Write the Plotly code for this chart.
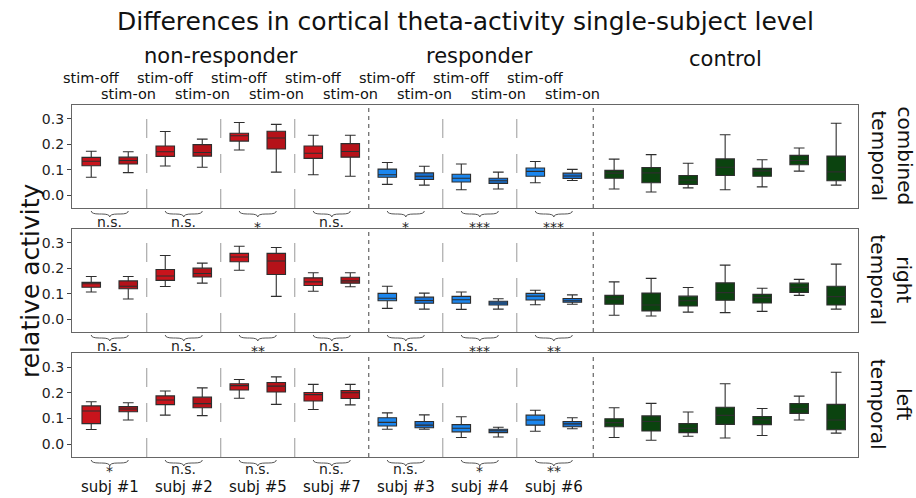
import plotly.graph_objects as go

# ---------------- data ----------------
SUBJECTS = ["subj #1", "subj #2", "subj #5", "subj #7", "subj #3", "subj #4", "subj #6"]
GROUPS = ["non-responder", "responder", "control"]
CONDITIONS = ["stim-off", "stim-on"]
REGIONS = ["combined<br>temporal", "right<br>temporal", "left<br>temporal"]
TITLE = "Differences in cortical theta-activity single-subject level"
YLABEL = "relative activity"
YTICKS = [0.0, 0.1, 0.2, 0.3]

# box order: subj#1 off,on, subj#2 off,on, subj#5, subj#7, subj#3, subj#4, subj#6, then 7 controls
COMB_HI = [0.173, 0.171, 0.251, 0.221, 0.286, 0.279, 0.236, 0.236, 0.129, 0.114, 0.123, 0.091, 0.133, 0.102,
           0.142, 0.160, 0.126, 0.238, 0.140, 0.186, 0.283]
COMB_Q3 = [0.149, 0.150, 0.194, 0.199, 0.244, 0.252, 0.194, 0.203, 0.103, 0.088, 0.083, 0.067, 0.107, 0.087,
           0.098, 0.109, 0.078, 0.143, 0.106, 0.157, 0.154]
COMB_MED = [0.134, 0.137, 0.171, 0.168, 0.234, 0.225, 0.165, 0.172, 0.081, 0.075, 0.067, 0.057, 0.094, 0.076,
            0.087, 0.088, 0.060, 0.110, 0.096, 0.137, 0.092]
COMB_Q1 = [0.116, 0.123, 0.153, 0.154, 0.213, 0.182, 0.145, 0.150, 0.071, 0.062, 0.052, 0.047, 0.075, 0.066,
           0.067, 0.049, 0.043, 0.078, 0.075, 0.120, 0.057]
COMB_LO = [0.071, 0.089, 0.115, 0.110, 0.178, 0.091, 0.081, 0.075, 0.043, 0.040, 0.022, 0.025, 0.049, 0.058,
           0.025, 0.013, 0.029, 0.022, 0.033, 0.095, 0.040]

RIGHT_HI = [0.168, 0.168, 0.251, 0.221, 0.287, 0.282, 0.183, 0.183, 0.130, 0.103, 0.107, 0.081, 0.114, 0.096,
            0.147, 0.161, 0.125, 0.213, 0.122, 0.157, 0.217]
RIGHT_Q3 = [0.145, 0.151, 0.196, 0.201, 0.259, 0.259, 0.163, 0.165, 0.102, 0.087, 0.090, 0.071, 0.102, 0.082,
            0.094, 0.103, 0.091, 0.143, 0.098, 0.142, 0.130]
RIGHT_MED = [0.140, 0.130, 0.170, 0.180, 0.245, 0.229, 0.147, 0.151, 0.083, 0.074, 0.077, 0.064, 0.091, 0.073,
             0.080, 0.056, 0.073, 0.105, 0.085, 0.126, 0.089]
RIGHT_Q1 = [0.126, 0.120, 0.153, 0.166, 0.226, 0.176, 0.133, 0.142, 0.073, 0.063, 0.063, 0.056, 0.076, 0.067,
            0.059, 0.033, 0.052, 0.075, 0.064, 0.106, 0.056]
RIGHT_LO = [0.107, 0.080, 0.129, 0.142, 0.193, 0.090, 0.110, 0.128, 0.043, 0.040, 0.039, 0.040, 0.057, 0.059,
            0.016, 0.013, 0.028, 0.026, 0.031, 0.094, 0.040]

LEFT_HI = [0.165, 0.161, 0.207, 0.219, 0.252, 0.262, 0.233, 0.233, 0.122, 0.114, 0.107, 0.066, 0.132, 0.103,
           0.142, 0.159, 0.125, 0.235, 0.139, 0.187, 0.280]
LEFT_Q3 = [0.149, 0.146, 0.188, 0.183, 0.235, 0.240, 0.201, 0.209, 0.103, 0.088, 0.076, 0.058, 0.113, 0.088,
           0.099, 0.110, 0.080, 0.144, 0.108, 0.158, 0.155]
LEFT_MED = [0.129, 0.137, 0.172, 0.158, 0.228, 0.226, 0.193, 0.200, 0.085, 0.074, 0.062, 0.052, 0.094, 0.079,
            0.084, 0.088, 0.062, 0.112, 0.095, 0.137, 0.094]
LEFT_Q1 = [0.080, 0.126, 0.154, 0.142, 0.211, 0.203, 0.168, 0.178, 0.071, 0.064, 0.048, 0.045, 0.074, 0.068,
           0.068, 0.051, 0.045, 0.077, 0.076, 0.120, 0.056]
LEFT_LO = [0.057, 0.094, 0.113, 0.111, 0.179, 0.155, 0.135, 0.153, 0.058, 0.058, 0.026, 0.028, 0.050, 0.060,
           0.026, 0.015, 0.031, 0.024, 0.034, 0.094, 0.043]

SIG_COMB = ["n.s.", "n.s.", "*", "n.s.", "*", "***", "***"]
SIG_RIGHT = ["n.s.", "n.s.", "**", "n.s.", "n.s.", "***", "**"]
SIG_LEFT = ["*", "n.s.", "n.s.", "n.s.", "n.s.", "*", "**"]

PANELS = [
    (COMB_LO, COMB_Q1, COMB_MED, COMB_Q3, COMB_HI, SIG_COMB),
    (RIGHT_LO, RIGHT_Q1, RIGHT_MED, RIGHT_Q3, RIGHT_HI, SIG_RIGHT),
    (LEFT_LO, LEFT_Q1, LEFT_MED, LEFT_Q3, LEFT_HI, SIG_LEFT),
]

# ---------------- layout geometry ----------------
W, H = 916, 498
ML, MR, MT, MB = 72, 58, 105, 41
PH = H - MT - MB           # paper height in px
PW = W - ML - MR

def py(px):                # pixel y -> paper y
    return (H - MB - px) / PH

panel_px = [(105, 208), (229, 332), (353, 457)]
domains = [[py(b), py(t)] for (t, b) in panel_px]

n_subj_boxes = 2 * len(SUBJECTS)
n_ctrl = len(COMB_HI) - n_subj_boxes
pos = list(range(n_subj_boxes)) + [n_subj_boxes + 0.13 + i for i in range(n_ctrl)]
XR = [-0.52, pos[-1] + 0.59]
n_nonresp = 4

RED_OFF, RED_ON = "#c9141c", "#b51219"
BLUE_OFF, BLUE_ON = "#1b86ee", "#1770d2"
GREEN = "#0b430f"
EDGE = "#2e2e2e"
FONT = "DejaVu Sans"

def box_color(k):
    if k >= n_subj_boxes:
        return GREEN
    subj = k // 2
    on = k % 2 == 1
    if subj < n_nonresp:
        return RED_ON if on else RED_OFF
    return BLUE_ON if on else BLUE_OFF

def label(x, y, text, size, xref="x", yref="paper", angle=0, color="#111"):
    return dict(x=x, y=y, xref=xref, yref=yref, text=text, showarrow=False, textangle=angle,
                xanchor="center", yanchor="middle",
                font=dict(family=FONT, size=size, color=color))

fig = go.Figure()
shapes = []
annotations = []

for pi, (lo, q1, med, q3, hi, sig) in enumerate(PANELS):
    xa = "x" if pi == 0 else f"x{pi+1}"
    ya = "y" if pi == 0 else f"y{pi+1}"
    colors = []
    for k in range(len(hi)):
        if box_color(k) not in colors:
            colors.append(box_color(k))
    for col in colors:
        idx = [k for k in range(len(hi)) if box_color(k) == col]
        fig.add_trace(go.Box(
            x=[pos[k] for k in idx],
            lowerfence=[lo[k] for k in idx], q1=[q1[k] for k in idx],
            median=[med[k] for k in idx], q3=[q3[k] for k in idx],
            upperfence=[hi[k] for k in idx],
            width=0.5, whiskerwidth=0.58, boxpoints=False,
            fillcolor=col, line=dict(color=EDGE, width=1.1),
            xaxis=xa, yaxis=ya, showlegend=False,
        ))
    ydom = ya + " domain"
    # dividers
    for s in range(1, len(SUBJECTS)):
        xd = (pos[2 * s - 1] + pos[2 * s]) / 2
        major = (s == n_nonresp)
        shapes.append(dict(type="line", xref=xa, yref=ydom, x0=xd, x1=xd, y0=0, y1=1,
                           line=dict(color="#444444" if major else "#999999", width=1,
                                     dash="4px,4px" if major else "19px,16px")))
    xd = (pos[n_subj_boxes - 1] + pos[n_subj_boxes]) / 2
    shapes.append(dict(type="line", xref=xa, yref=ydom, x0=xd, x1=xd, y0=0, y1=1,
                       line=dict(color="#444444", width=1, dash="4px,4px")))
    # braces & significance
    bottom_px = panel_px[pi][1]
    y0, y1, y2 = py(bottom_px + 3), py(bottom_px + 6), py(bottom_px + 9)
    base_off = 12 if pi == 2 else 14
    star_shift = 2 if pi == 2 else 5
    for s in range(len(SUBJECTS)):
        a, b = pos[2 * s], pos[2 * s + 1]
        m = (a + b) / 2
        r = 0.22
        path = (f"M{a},{y0} Q{a},{y1} {a+r},{y1} L{m-r},{y1} Q{m},{y1} {m},{y2} "
                f"Q{m},{y1} {m+r},{y1} L{b-r},{y1} Q{b},{y1} {b},{y0}")
        shapes.append(dict(type="path", xref="x", yref="paper", path=path,
                           line=dict(color="#555555", width=1)))
        off = base_off + (star_shift if sig[s].startswith("*") else 0)
        annotations.append(label(m, py(bottom_px + off), sig[s], 14, color="#222"))
    # region label on right
    annotations.append(label((891 - ML) / PW, (domains[pi][0] + domains[pi][1]) / 2, REGIONS[pi], 20,
                             xref="paper", angle=90))

# subject labels and condition labels
for s, name in enumerate(SUBJECTS):
    m = (pos[2 * s] + pos[2 * s + 1]) / 2
    annotations.append(label(m, py(487), name, 15))
    for c, cond in enumerate(CONDITIONS):
        annotations.append(label(pos[2 * s + c], py(78 + 16 * c), cond, 14.5))

# group labels
grp_centers = [(pos[0] + pos[2 * n_nonresp - 1]) / 2,
               (pos[2 * n_nonresp] + pos[n_subj_boxes - 1]) / 2,
               (pos[n_subj_boxes] + pos[-1]) / 2]
for g, name in enumerate(GROUPS):
    annotations.append(label(grp_centers[g], py(56 if g < 2 else 59), name, 21))

annotations.append(label((465 - ML) / PW, py(22), TITLE, 25, xref="paper"))
annotations.append(label((30 - ML) / PW, 0.5, YLABEL, 25, xref="paper", angle=-90))

layout = dict(
    width=W, height=H, margin=dict(l=ML, r=MR, t=MT, b=MB),
    plot_bgcolor="white", paper_bgcolor="white",
    boxmode="overlay", shapes=shapes, annotations=annotations,
    font=dict(family=FONT, color="#222"),
)
for pi in range(3):
    xk = "xaxis" if pi == 0 else f"xaxis{pi+1}"
    yk = "yaxis" if pi == 0 else f"yaxis{pi+1}"
    xa = "x" if pi == 0 else f"x{pi+1}"
    ya = "y" if pi == 0 else f"y{pi+1}"
    layout[xk] = dict(range=XR, domain=[0, 1], anchor=ya, showticklabels=False, ticks="",
                      showgrid=False, zeroline=False, showline=True, mirror=True,
                      linecolor="#666666", linewidth=1.2)
    layout[yk] = dict(range=[-0.05, 0.355], domain=domains[pi], anchor=xa, tickvals=YTICKS,
                      ticktext=[f"{v:.1f}" for v in YTICKS], ticks="outside", ticklen=4,
                      tickcolor="#444444", tickfont=dict(family=FONT, size=14, color="#222"),
                      showgrid=False, zeroline=False, showline=True, mirror=True,
                      linecolor="#666666", linewidth=1.2)
fig.update_layout(**layout)
fig.write_html("out.html")
